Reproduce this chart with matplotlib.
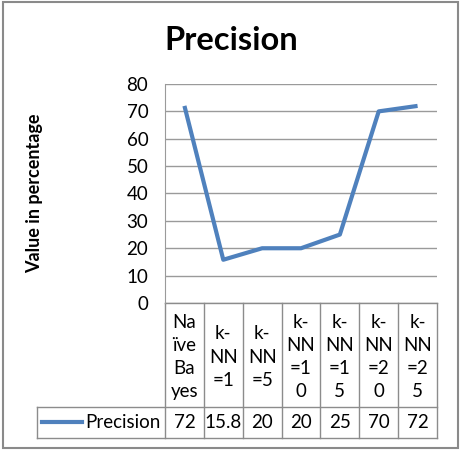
import matplotlib
matplotlib.use("Agg")
import matplotlib.pyplot as plt
from matplotlib import transforms
from matplotlib.patches import Rectangle

categories = ["Na\nïve\nBa\nyes", "k-\nNN\n=1", "k-\nNN\n=5", "k-\nNN\n=1\n0",
              "k-\nNN\n=1\n5", "k-\nNN\n=2\n0", "k-\nNN\n=2\n5"]
precision = [72, 15.8, 20, 20, 25, 70, 72]
value_labels = ["72", "15.8", "20", "20", "25", "70", "72"]
yticks = [0, 10, 20, 30, 40, 50, 60, 70, 80]
series_name = "Precision"

FONT = "Lato"
W = H = 465
fig = plt.figure(figsize=(4.65, 4.65), dpi=100)
fig.patch.set_facecolor("white")

# overlay in pixel coords
ov = fig.add_axes([0, 0, 1, 1])
ov.set_xlim(0, W)
ov.set_ylim(H, 0)
ov.axis("off")

L, R, T, B = 165, 437, 84, 303
ax = fig.add_axes([L / W, (H - B) / H, (R - L) / W, (B - T) / H])
ax.set_xlim(-0.5, len(categories) - 0.5)
ax.set_ylim(0, 80)
ax.set_yticks(yticks)
ax.set_xticks([])
ax.tick_params(axis="y", length=0, labelsize=13.5, pad=12)
for lab in ax.get_yticklabels():
    lab.set_fontfamily(FONT)
ax.grid(axis="y", color="#9a9a9a", lw=1)
ax.set_axisbelow(True)
for s in ["top", "right", "bottom"]:
    ax.spines[s].set_visible(False)
ax.spines["left"].set_color("#9a9a9a")
ax.patch.set_alpha(0)

blue = "#4f81bd"
ax.plot(range(len(precision)), precision, color=blue, lw=3, solid_capstyle="butt")

ax.set_ylabel("Value in percentage", fontsize=13, fontweight="bold", family=FONT)
ax.yaxis.set_label_coords(-0.45, 0.5)

fig.text((L + 297) / 2 / W, 1 - 40 / H, "Precision", ha="center", va="center",
         fontsize=23.5, fontweight="bold", family=FONT)

# table
gc = "#8c8c8c"
blend = transforms.blended_transform_factory(ax.transData, ov.transData)
n = len(categories)
row1_top, row1_bot, row2_bot = B, 407, 438
left_cell = 37
ov.plot([L, R], [row1_top, row1_top], color=gc, lw=1)
ov.plot([left_cell, R], [row1_bot, row1_bot], color=gc, lw=1)
ov.plot([left_cell, R], [row2_bot, row2_bot], color=gc, lw=1)
ov.plot([left_cell, left_cell], [row1_bot, row2_bot], color=gc, lw=1)
for i in range(n + 1):
    ov.plot([i - 0.5, i - 0.5], [row1_top, row2_bot], color=gc, lw=1, transform=blend)
for i, (c, v) in enumerate(zip(categories, value_labels)):
    ov.text(i, (row1_top + row1_bot) / 2 + 2, c, ha="center", va="center", fontsize=13.5,
            family=FONT, linespacing=1.45, transform=blend)
    ov.text(i, (row1_bot + row2_bot) / 2, v, ha="center", va="center", fontsize=13.5,
            family=FONT, transform=blend)
ov.plot([42, 82], [422, 422], color=blue, lw=3)
ov.text(85, 422.5, series_name, ha="left", va="center", fontsize=13.5, family=FONT)

# outer frame
ov.add_patch(Rectangle((3, 2), 455, 446, fill=False, ec="#8a8a8a", lw=1.5))

fig.savefig("out.png", dpi=100, facecolor="white")
